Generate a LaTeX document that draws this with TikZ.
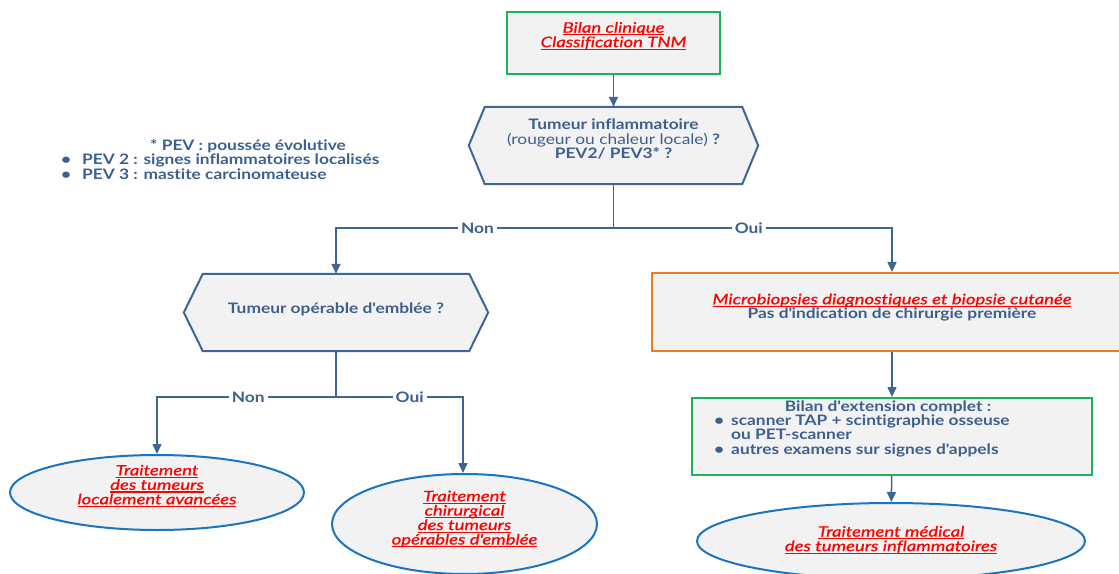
\documentclass[tikz,border=0pt]{standalone}
\usepackage{fontspec}
\setmainfont{Lato}[FakeStretch=1.2, Ligatures=NoCommon]
\newfontfamily\redfont{Lato}[FakeStretch=1.28, FakeBold=0.8, Ligatures=NoCommon]
\usetikzlibrary{arrows.meta,shapes.geometric}

\definecolor{txtblue}{HTML}{3C5F8F}
\definecolor{lineblue}{HTML}{3F6597}
\definecolor{boxfill}{HTML}{F2F2F2}
\definecolor{okgreen}{HTML}{1CB35A}
\definecolor{orng}{HTML}{EB7A2B}
\definecolor{ellblue}{HTML}{1A74C0}
\definecolor{alertred}{HTML}{FF0000}

% underlined text: a rule drawn under the box of the text
\newsavebox{\rlbox}
\newcommand{\rl}[1]{\leavevmode\sbox{\rlbox}{#1}\rlap{\vrule height -1.5bp depth 2.8bp width \wd\rlbox}\usebox{\rlbox}}
\newcommand{\blt}{\makebox[17bp][l]{•}}
\newcommand{\ap}{\textquotesingle}

\tikzset{
  basefont/.style={font=\fontsize{14.5}{14.5}\selectfont\bfseries},
  box/.style={draw, fill=boxfill, line width=2bp, inner sep=0pt},
  hexcore/.style={inner sep=0pt},
  hexa/.style={draw=lineblue, fill=boxfill, line width=2bp, line join=miter},
  ell/.style={ellipse, draw=ellblue, fill=boxfill, line width=2bp, inner sep=0pt},
  bluetxt/.style={basefont, text=txtblue, align=center, inner sep=0pt},
  redtxt/.style={font=\redfont\fontsize{14.5}{14.5}\selectfont\itshape, text=alertred, align=center, inner sep=0pt},
  conn/.style={draw=lineblue, line width=1.5bp},
  arr/.style={conn, -{Triangle[length=10bp,width=9bp]}},
  tag/.style={basefont, text=txtblue, fill=white, inner sep=3bp},
}

\begin{document}
\begin{tikzpicture}[x=1bp, y=-1bp]
\useasboundingbox (0,0) rectangle (1119,574);

% clinical assessment
\node[box, draw=okgreen, minimum width=213bp, minimum height=62bp] (bilan) at (613.5,43) {};
\node[redtxt] (bilantxt) at (613.5,36) {\rl{Bilan clinique}\\\rl{Classification TNM}};

% inflammatory tumour question
\node[hexcore, minimum width=289bp, minimum height=77bp] (infl) at (613.5,145.5) {};
\path[hexa] ([xshift=16bp]infl.north west) -- ([xshift=-16bp]infl.north east) -- (infl.east)
  -- ([xshift=-16bp]infl.south east) -- ([xshift=16bp]infl.south west) -- (infl.west) -- cycle;
\node[bluetxt] (infltxt) at (613.5,139) {Tumeur inflammatoire\\{\mdseries(rougeur ou chaleur locale)} ?\\PEV2/ PEV3* ?};

% footnote
\node[basefont, text=txtblue, align=left, anchor=west, inner sep=0pt] (notes) at (61,159.5)
  {\hspace*{89bp}* PEV : poussée évolutive\\\makebox[21bp][l]{•}PEV 2 : signes inflammatoires localisés\\\makebox[21bp][l]{•}PEV 3 : mastite carcinomateuse};

% operable question
\node[hexcore, minimum width=304bp, minimum height=77bp] (oper) at (336,312.5) {};
\path[hexa] ([xshift=19bp]oper.north west) -- ([xshift=-19bp]oper.north east) -- (oper.east)
  -- ([xshift=-19bp]oper.south east) -- ([xshift=19bp]oper.south west) -- (oper.west) -- cycle;
\node[bluetxt] (opertxt) at (336,309) {Tumeur opérable d\ap emblée ?};

% microbiopsies
\node[box, draw=orng, minimum width=480bp, minimum height=78bp] (micro) at (892,312) {};
\node[bluetxt] (microtxt) at (892,307.5) {{\redfont\mdseries\itshape\color{alertred}\rl{Microbiopsies diagnostiques et biopsie cutanée}}\\Pas d\ap indication de chirurgie première};

% staging
\node[box, draw=okgreen, minimum width=400bp, minimum height=77bp] (ext) at (892,436.5) {};
\node[bluetxt] (exthead) at (888,407) {Bilan d\ap extension complet :};
\node[bluetxt, align=left, anchor=west] (extlist) at (714,435.5)
  {\blt scanner TAP + scintigraphie osseuse\\\hspace*{17bp}ou PET-scanner\\\blt autres examens sur signes d\ap appels};

% treatments
\node[ell, minimum width=294bp, minimum height=75bp] (tla) at (157,492.5) {};
\node[redtxt] (tlatxt) at (157,486) {\rl{Traitement}\\\rl{des tumeurs}\\\rl{localement avancées}};

\node[ell, minimum width=265bp, minimum height=100bp] (tchir) at (464.5,524) {};
\node[redtxt] (tchirtxt) at (464.5,519) {\rl{Traitement}\\\rl{chirurgical}\\\rl{des tumeurs}\\\rl{opérables d\ap emblée}};

\node[ell, minimum width=388bp, minimum height=76bp] (tmed) at (891,541) {};
\node[redtxt] (tmedtxt) at (891,540) {\rl{Traitement médical}\\\rl{des tumeurs inflammatoires}};

% connectors
\coordinate (j1) at (613.5,228);
\coordinate (j2) at (336,397);
\draw[arr] (bilan) -- (infl);
\draw[conn] (infl.south) -- (j1);
\draw[arr] (j1) -| node[tag, pos=0.245] {Non} (oper.north);
\draw[arr] (j1) -| node[tag, pos=0.243] {Oui} (micro.north);
\draw[conn] (oper.south) -- (j2);
\draw[arr] (j2) -| node[tag, pos=0.245] {Non} (tla.north);
\draw[arr] (j2) -| node[tag, pos=0.29] {Oui} ([xshift=-1.5bp]tchir.north);
\draw[arr] (micro) -- (ext);
\draw[arr] (ext) -- (tmed);
\end{tikzpicture}
\end{document}
